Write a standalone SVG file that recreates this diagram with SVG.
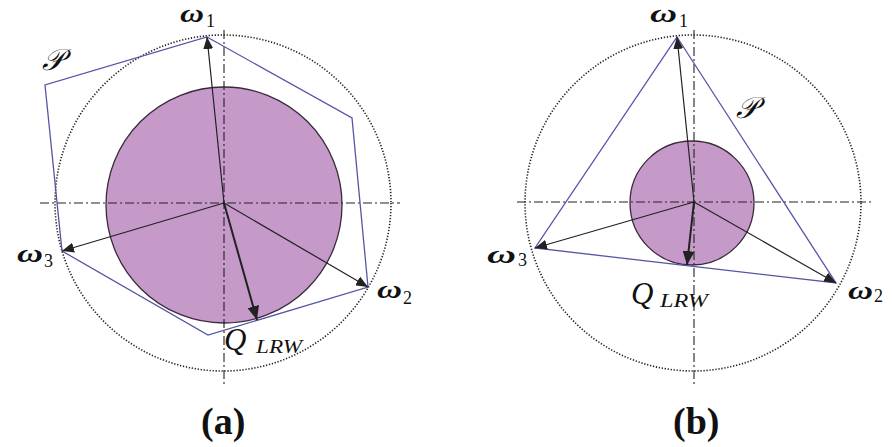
<svg xmlns="http://www.w3.org/2000/svg" width="893" height="447" viewBox="0 0 893 447">
<style>
.bg{fill:#ffffff}
.outer{fill:none;stroke:#222;stroke-width:1.6;stroke-dasharray:1.3 1.7}
.axis{fill:none;stroke:#222;stroke-width:1.1;stroke-dasharray:9 3 2 3}
.ball{fill:#c59ac9;stroke:#3b2a3b;stroke-width:1.3}
.poly{fill:none;stroke:#5555a8;stroke-width:1.3;stroke-linejoin:miter}
.vec{fill:none;stroke:#222;stroke-width:1.2}
.qvec{fill:none;stroke:#222;stroke-width:2}
.om{font-family:"Liberation Serif","DejaVu Serif",serif;font-weight:bold;font-style:italic;font-size:25px;fill:#111}
.sub{font-family:"Liberation Serif","DejaVu Serif",serif;font-weight:normal;font-style:normal;font-size:18px;fill:#111}
.q{font-family:"Liberation Serif","DejaVu Serif",serif;font-style:italic;font-size:31px;fill:#111}
.qs{font-family:"Liberation Serif","DejaVu Serif",serif;font-style:italic;font-size:18px;fill:#111}
.p{font-family:"DejaVu Serif","Liberation Serif",serif;font-style:italic;font-size:30px;fill:#111}
.cap{font-family:"Liberation Serif","DejaVu Serif",serif;font-weight:bold;font-size:38px;fill:#111}
</style>
<defs>
<marker id="ah" markerUnits="userSpaceOnUse" markerWidth="14" markerHeight="10" refX="12" refY="5" orient="auto">
<path d="M0,0 L12,5 L0,10 Z" fill="#222"/>
</marker>
<marker id="ahq" markerUnits="userSpaceOnUse" markerWidth="16" markerHeight="12" refX="14" refY="6" orient="auto">
<path d="M0,0 L14,6 L0,12 Z" fill="#222"/>
</marker>
</defs>
<rect class="bg" x="0" y="0" width="893" height="447"/>

<g id="panel-a">
  <circle id="a-outer" class="outer" cx="223" cy="203" r="168"/>
  <circle id="a-ball" class="ball" cx="224" cy="205" r="118"/>
  <line class="axis" x1="40" y1="203" x2="400" y2="203"/>
  <line class="axis" x1="224" y1="30" x2="224" y2="386"/>
  <polygon id="a-P" class="poly" points="207,37 352,118 368,287 208,335 62,251 45,85"/>
  <g id="a-connectors">
    <line class="vec" x1="224" y1="203" x2="207" y2="37" marker-end="url(#ah)"/>
    <line class="vec" x1="224" y1="203" x2="62" y2="251" marker-end="url(#ah)"/>
    <line class="vec" x1="224" y1="203" x2="368" y2="287" marker-end="url(#ah)"/>
    <line class="qvec" x1="224" y1="203" x2="257" y2="320" marker-end="url(#ahq)"/>
  </g>
  <g id="a-labels">
    <text class="om" x="180" y="22" textLength="24" lengthAdjust="spacingAndGlyphs">ω</text>
    <text class="sub" x="206" y="27">1</text>
    <text class="om" x="17" y="262" textLength="26" lengthAdjust="spacingAndGlyphs">ω</text>
    <text class="sub" x="44" y="267">3</text>
    <text class="om" x="377" y="298" textLength="25" lengthAdjust="spacingAndGlyphs">ω</text>
    <text class="sub" x="403" y="304">2</text>
    <text class="p" x="42" y="70">𝒫</text>
    <text class="q" x="224" y="350">Q</text>
    <text class="qs" x="256" y="353" textLength="46" lengthAdjust="spacingAndGlyphs">LRW</text>
    <text class="cap" x="201" y="434">(a)</text>
  </g>
</g>

<g id="panel-b">
  <circle id="b-outer" class="outer" cx="693" cy="203" r="168"/>
  <circle id="b-ball" class="ball" cx="692" cy="203" r="62"/>
  <line class="axis" x1="517" y1="202" x2="873" y2="202"/>
  <line class="axis" x1="694" y1="30" x2="694" y2="386"/>
  <polygon id="b-P" class="poly" points="677,37 836,283 535,248"/>
  <g id="b-connectors">
    <line class="vec" x1="694" y1="202" x2="677" y2="37" marker-end="url(#ah)"/>
    <line class="vec" x1="694" y1="202" x2="535" y2="248" marker-end="url(#ah)"/>
    <line class="vec" x1="694" y1="202" x2="836" y2="283" marker-end="url(#ah)"/>
    <line class="qvec" x1="694" y1="202" x2="687" y2="265" marker-end="url(#ahq)"/>
  </g>
  <g id="b-labels">
    <text class="om" x="650" y="22" textLength="27" lengthAdjust="spacingAndGlyphs">ω</text>
    <text class="sub" x="679" y="27">1</text>
    <text class="om" x="487" y="263" textLength="29" lengthAdjust="spacingAndGlyphs">ω</text>
    <text class="sub" x="518" y="266">3</text>
    <text class="om" x="848" y="299" textLength="25" lengthAdjust="spacingAndGlyphs">ω</text>
    <text class="sub" x="874" y="302">2</text>
    <text class="p" x="736" y="118">𝒫</text>
    <text class="q" x="631" y="304">Q</text>
    <text class="qs" x="660" y="307" textLength="48" lengthAdjust="spacingAndGlyphs">LRW</text>
    <text class="cap" x="673" y="434">(b)</text>
  </g>
</g>
</svg>
